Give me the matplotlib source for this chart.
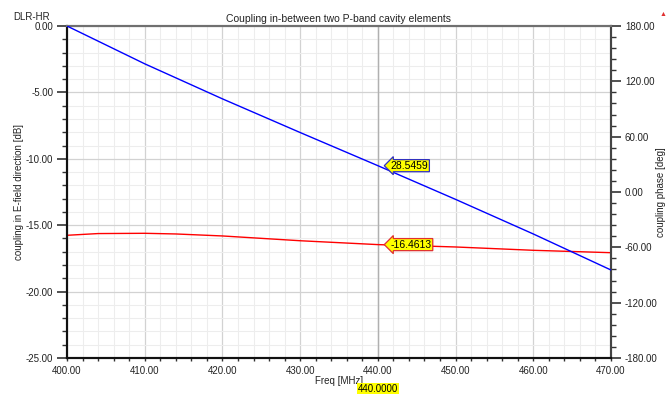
import matplotlib
matplotlib.use("Agg")
import matplotlib.pyplot as plt
from matplotlib.ticker import MultipleLocator, FormatStrFormatter

plt.rcParams['font.family'] = ['Liberation Sans', 'DejaVu Sans']

# coupling magnitude (left axis, dB)
freq_mag = [400, 404, 410, 414, 420, 430, 440, 450, 460, 470]
mag_db = [-15.76, -15.63, -15.61, -15.66, -15.81, -16.17, -16.4613, -16.64, -16.89, -17.07]

# coupling phase (right axis, deg)
freq_ph = [400, 410, 420, 430, 440, 450, 460, 470]
phase_deg = [180.0, 139.0, 101.0, 64.5, 28.5459, -8.0, -45.5, -84.6]

marker_f = 440.0
marker_mag = -16.4613
marker_ph = 28.5459

fig = plt.figure(figsize=(6.68, 3.94), dpi=100)
ax = fig.add_axes([67/668, 1-358/394, (611-67)/668, (358-26)/394])
ax2 = ax.twinx()

# grid (left axis)
ax.set_xlim(400, 470)
ax.set_ylim(-25, 0)
ax.xaxis.set_major_locator(MultipleLocator(10))
ax.xaxis.set_minor_locator(MultipleLocator(2))
ax.yaxis.set_major_locator(MultipleLocator(5))
ax.yaxis.set_minor_locator(MultipleLocator(1))
ax.xaxis.set_major_formatter(FormatStrFormatter('%.2f'))
ax.yaxis.set_major_formatter(FormatStrFormatter('%.2f'))
ax.grid(which='minor', color='#ededed', lw=0.8)
ax.grid(which='major', color='#d2d2d2', lw=0.9)
ax.set_axisbelow(True)

ax2.set_ylim(-180, 180)
ax2.yaxis.set_major_locator(MultipleLocator(60))
ax2.yaxis.set_minor_locator(MultipleLocator(12))
ax2.yaxis.set_major_formatter(FormatStrFormatter('%.2f'))

# marker line
ax.axvline(marker_f, color='#b0b0b0', lw=1.0, zorder=1)

ax.plot(freq_mag, mag_db, color='#ff0000', lw=1.0, zorder=3)
ax2.plot(freq_ph, phase_deg, color='#0000ff', lw=1.0, zorder=3)

for a in (ax, ax2):
    a.tick_params(axis='y', which='major', length=7, width=1.2, pad=3, labelsize=7,
                  colors='#333333', labelcolor='#222222')
    a.tick_params(axis='y', which='minor', length=3.6, width=1.0, colors='#333333')
    for s in a.spines.values():
        s.set_linewidth(1.5)
    a.spines['left'].set_color('#111111')
    a.spines['bottom'].set_color('#111111')
    a.spines['top'].set_color('#707070')
    a.spines['right'].set_color('#444444')
ax.tick_params(axis='x', which='both', length=2.5, width=1.0, pad=3, labelsize=7,
               colors='#333333', labelcolor='#222222')

ax.set_xlabel('Freq [MHz]', fontsize=7, color='#222222', labelpad=0)
ax.set_ylabel('coupling in E-field direction [dB]', fontsize=7, color='#222222', labelpad=1)
ax2.set_ylabel('coupling phase [deg]', fontsize=7, color='#222222', labelpad=-1)
ax.set_title('Coupling in-between two P-band cavity elements', fontsize=7.5, color='#222222', pad=3)

fig.text(13/668, 1-17/394, 'DLR-HR', fontsize=7, color='#222222', ha='left', va='center')
fig.text(663/668, 1-14/394, '\u25b2', fontsize=5, color='#e03030', ha='center', va='center')

# marker labels
ax2.annotate(f'{marker_ph:.4f}', xy=(marker_f + 0.3, marker_ph), xytext=(7.5, 0), textcoords='offset points',
             fontsize=7.5, va='center', ha='left',
             bbox=dict(boxstyle='larrow,pad=0.1', fc='#ffff00', ec='#3030c0', lw=0.9), zorder=5)
ax.annotate(f'{marker_mag:.4f}', xy=(marker_f + 0.3, marker_mag), xytext=(7.5, 0), textcoords='offset points',
            fontsize=7.5, va='center', ha='left',
            bbox=dict(boxstyle='larrow,pad=0.1', fc='#ffff00', ec='#e03030', lw=0.9), zorder=5)
ax.annotate(f'{marker_f:.4f}', xy=(marker_f, -25), xytext=(0, -22.5), textcoords='offset points',
            fontsize=7, va='center', ha='center', annotation_clip=False,
            bbox=dict(boxstyle='square,pad=0.1', fc='#ffff00', ec='none'))

fig.savefig('out.png', dpi=100)
